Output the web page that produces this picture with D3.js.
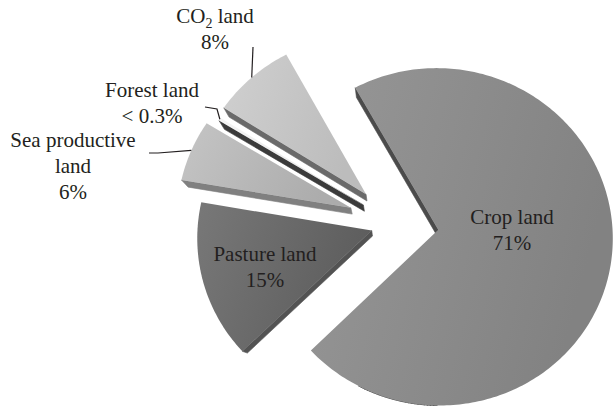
<!DOCTYPE html>
<html>
<head>
<meta charset="utf-8">
<script src="https://cdn.jsdelivr.net/npm/d3@7"></script>
<style>
  html, body { margin: 0; padding: 0; background: #ffffff; }
  svg { display: block; }
  text { font-family: "Liberation Serif", "Times New Roman", serif; fill: #231f20; }
</style>
</head>
<body>
<svg id="chart" width="615" height="408"></svg>
<script>
// Ecological footprint composition by land type (share of total, %)
const categories = ["Crop land", "Pasture land", "Sea productive land", "Forest land", "CO2 land"];
const shares = [71, 15, 6, 0.3, 8];
const shareLabels = ["71%", "15%", "6%", "< 0.3%", "8%"];

// Appearance of each slice: front face gradient (light -> dark) and side wall colour
const faceLight = ["#979797", "#787878", "#c5c5c5", "#f4f4f4", "#d0d0d0"];
const faceDark  = ["#828282", "#5d5d5d", "#acacac", "#e6e6e6", "#bcbcbc"];
const sideColor = ["#4b4b4b", "#535353", "#808080", "#3b3b3b", "#6a6a6a"];
const explodeDist = [44, 24, 47, 37, 42];

const svg = d3.select("#chart");

// 3-D pie geometry: slices lie in a slightly tilted plane seen in perspective
const cx = 394.7, cy = 223.6, radius = 174, thickness = 29;
const tilt = 11.9 * Math.PI / 180, focal = 859, squash = 0.986;
const startDeg = -29;

function project(x, y, z) {
  const yy = y * squash;
  const y2 = yy * Math.cos(tilt) - z * Math.sin(tilt);
  const z2 = yy * Math.sin(tilt) + z * Math.cos(tilt);
  const s = focal / (focal - z2);
  return [cx + x * s, cy + y2 * s];
}

const pie = d3.pie().sort(null).value(d => d)
  .startAngle(startDeg * Math.PI / 180)
  .endAngle(startDeg * Math.PI / 180 + 2 * Math.PI);
const arcs = pie(shares);

const polyLine = d3.line().curve(d3.curveLinearClosed);

function signedArea(pts) {
  let a = 0;
  for (let i = 0; i < pts.length; i++) {
    const p = pts[i], q = pts[(i + 1) % pts.length];
    a += p[0] * q[1] - q[0] * p[1];
  }
  return a / 2;
}

// Planar outline of every exploded slice
const slices = arcs.map((a, i) => {
  const mid = (a.startAngle + a.endAngle) / 2;
  const ox = explodeDist[i] * Math.sin(mid), oy = -explodeDist[i] * Math.cos(mid);
  const n = Math.max(2, Math.ceil((a.endAngle - a.startAngle) / (Math.PI / 180)));
  const pts = [[ox, oy]];
  for (let k = 0; k <= n; k++) {
    const t = a.startAngle + (a.endAngle - a.startAngle) * k / n;
    pts.push([ox + radius * Math.sin(t), oy - radius * Math.cos(t)]);
  }
  const front = pts.map(p => project(p[0], p[1], 0));
  const back = pts.map(p => project(p[0], p[1], -thickness));
  const midPt = project(ox + radius * Math.sin(mid), oy - radius * Math.cos(mid), 0);
  return { i, front, back, midPt };
});

const defs = svg.append("defs");
slices.forEach(s => {
  const g = defs.append("linearGradient").attr("id", "face" + s.i)
    .attr("x1", 0).attr("y1", 0).attr("x2", 1).attr("y2", 0.3);
  g.append("stop").attr("offset", "0%").attr("stop-color", faceLight[s.i]);
  g.append("stop").attr("offset", "100%").attr("stop-color", faceDark[s.i]);
});

// Side walls (only those turned toward the viewer)
const sideLayer = svg.append("g");
[4, 3, 2, 1, 0].forEach(idx => {
  const s = slices[idx];
  const frontSign = Math.sign(signedArea(s.front));
  const m = s.front.length;
  for (let k = 0; k < m; k++) {
    const k2 = (k + 1) % m;
    const quad = [s.front[k], s.front[k2], s.back[k2], s.back[k]];
    const area = signedArea(quad);
    if (Math.sign(area) === -frontSign && Math.abs(area) > 1e-6) {
      sideLayer.append("path").attr("d", polyLine(quad))
        .attr("fill", sideColor[idx]).attr("stroke", sideColor[idx]).attr("stroke-width", 0.6);
    }
  }
});

// Front faces
svg.append("g").selectAll("path").data(slices).join("path")
  .attr("d", s => polyLine(s.front))
  .attr("fill", s => `url(#face${s.i})`);

// Labels
const fontSize = 21, lineGap = 26;
const labelLayout = [
  { x: 512, y: 224, lines: ["Crop land", shareLabels[0]] },
  { x: 265, y: 261, lines: ["Pasture land", shareLabels[1]] },
  { x: 73, y: 147, lines: ["Sea productive", "land", shareLabels[2]] },
  { x: 152, y: 97, lines: ["Forest land", shareLabels[3]] },
  { x: 215, y: 23, lines: ["CO2 land", shareLabels[4]] }
];

const labelLayer = svg.append("g").attr("font-size", fontSize).attr("text-anchor", "middle");
labelLayout.forEach((L, i) => {
  L.lines.forEach((line, j) => {
    const t = labelLayer.append("text").attr("x", L.x).attr("y", L.y + j * lineGap);
    if (line === "CO2 land") {
      t.append("tspan").text("CO");
      t.append("tspan").text("2").attr("font-size", 14).attr("dy", 5);
      t.append("tspan").text(" land").attr("dy", -5);
    } else {
      t.text(line);
    }
  });
});

// Leader lines from outside labels to their slices
const leaders = [
  { idx: 4, from: [[253, 47]] },
  { idx: 3, from: [[205, 107], [217, 109]] },
  { idx: 2, from: [[149, 153], [158, 153]] }
];
const leaderLine = d3.line();
leaders.forEach(l => {
  const pts = l.from.concat([slices[l.idx].midPt]);
  svg.append("path").attr("d", leaderLine(pts))
    .attr("fill", "none").attr("stroke", "#231f20").attr("stroke-width", 1.2);
});
</script>
</body>
</html>
